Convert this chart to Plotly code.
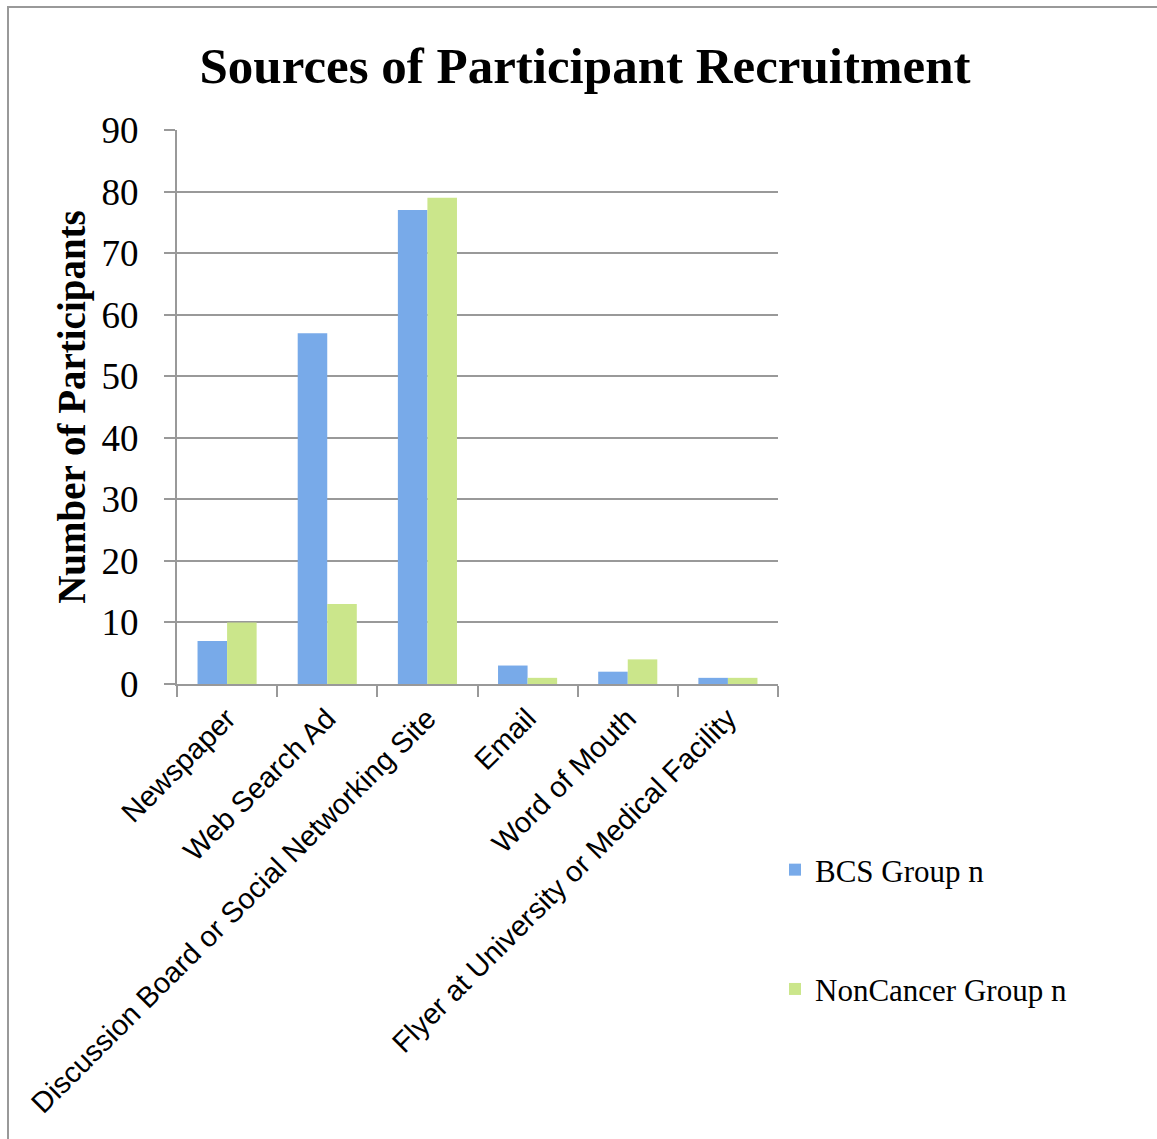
import plotly.graph_objects as go

categories = ["Newspaper", "Web Search Ad", "Discussion Board or Social Networking Site",
              "Email", "Word of Mouth", "Flyer at University or Medical Facility"]
bcs_values = [7, 57, 77, 3, 2, 1]
noncancer_values = [10, 13, 79, 1, 4, 1]
series_names = ["BCS Group n", "NonCancer Group n"]
y_ticks = [0, 10, 20, 30, 40, 50, 60, 70, 80, 90]

SERIF = "Liberation Serif, Times New Roman, serif"
SANS = "Liberation Sans, Arial, sans-serif"

fig = go.Figure()
fig.add_trace(go.Bar(x=categories, y=bcs_values, name=series_names[0],
                     marker=dict(color="#78aae9", line=dict(width=0)),
                     legendgroup="a"))
fig.add_trace(go.Bar(x=categories, y=noncancer_values, name=series_names[1],
                     marker=dict(color="#cbe68b", line=dict(width=0)),
                     legendgroup="b"))

W, H = 1157, 1139
L, R, T, B = 177, 379, 130, 455
pw, ph = W - L - R, H - T - B

fig.update_layout(
    width=W, height=H,
    margin=dict(l=L, r=R, t=T, b=B, autoexpand=False),
    paper_bgcolor="white", plot_bgcolor="white",
    barmode="group", bargap=0.41, bargroupgap=0,
    title=dict(text="<b>Sources of Participant Recruitment</b>",
               font=dict(family=SERIF, size=51, color="black"),
               x=(585) / W, xanchor="center", y=1 - 65 / H, yanchor="middle"),
    legend=dict(font=dict(family=SERIF, size=31, color="black"),
                x=(775 - L) / pw, xanchor="left",
                y=(H - B - 843) / ph, yanchor="top",
                traceorder="grouped", tracegroupgap=76,
                bgcolor="rgba(0,0,0,0)", itemwidth=30),
    xaxis=dict(tickangle=-45, tickfont=dict(family=SANS, size=29, color="black"),
               showline=True, linecolor="#999999", linewidth=2,
               ticks="outside", tickson="boundaries", ticklen=11, tickwidth=2,
               tickcolor="#999999", showgrid=False, automargin=False,
               ticklabelstandoff=4),
    yaxis=dict(range=[0, 90], tickvals=y_ticks,
               tickfont=dict(family=SERIF, size=37, color="black"),
               showline=True, linecolor="#999999", linewidth=2,
               ticks="outside", ticklen=11, tickwidth=2, tickcolor="#999999",
               showgrid=True, gridcolor="#999999", gridwidth=2,
               zeroline=False, automargin=False, ticklabelstandoff=18,
               title=dict(text="<b>Number of Participants</b>",
                          font=dict(family=SERIF, size=39, color="black"),
                          standoff=4)),
    shapes=[dict(type="rect", xref="paper", yref="paper",
                 x0=(8 - L) / pw, x1=(W + 20 - L) / pw,
                 y0=-(B + 20) / ph, y1=(H - B - 7) / ph,
                 line=dict(color="#999999", width=2), layer="below")],
)

fig.write_html("out.html")
